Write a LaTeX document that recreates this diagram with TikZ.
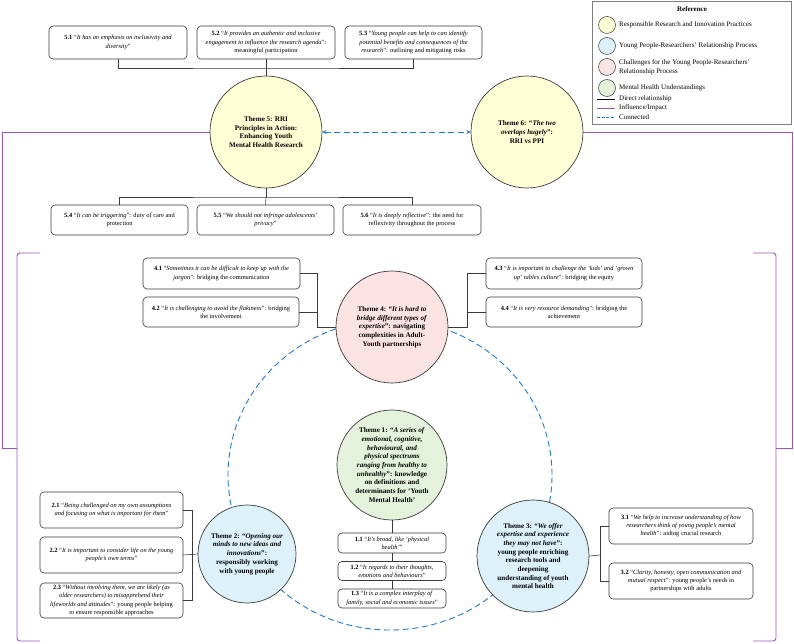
\documentclass[tikz,border=0pt]{standalone}
\usepackage{fontspec}
\setmainfont{Liberation Serif}
\usetikzlibrary{arrows.meta}
\definecolor{yel}{HTML}{FFFFD6}
\definecolor{blu}{HTML}{DDF1FA}
\definecolor{pnk}{HTML}{FCE3E3}
\definecolor{grn}{HTML}{E4F2DC}
\definecolor{pur}{HTML}{9554C9}
\definecolor{dsh}{HTML}{1F7AD6}
\definecolor{lin}{HTML}{3A3A3A}
\begin{document}
\begin{tikzpicture}[x=1pt,y=-1pt,
 qbox/.style={draw=lin, line width=0.6pt, rounded corners=4pt, fill=white, align=center, inner sep=1pt, font=\fontsize{6.4}{8.3}\selectfont},
 themec/.style={draw=lin, line width=0.7pt, circle, inner sep=0pt, align=center, minimum size=112pt, font=\fontsize{7.1}{8.7}\selectfont\bfseries},
 conn/.style={draw=lin, line width=0.6pt},
 infl/.style={draw=pur, line width=0.9pt},
 link/.style={draw=dsh, line width=0.9pt, dash pattern=on 6pt off 3.5pt},
 legc/.style={circle, draw=lin, line width=0.5pt, minimum size=17pt, inner sep=0pt},
 legt/.style={anchor=west, align=left, inner sep=0pt, font=\fontsize{7}{8.6}\selectfont}]
\useasboundingbox (0,0) rectangle (794,644);

% ---------- dashed big circle (behind) ----------
\draw[link] (390,475) ellipse [x radius=162pt, y radius=155pt];

% ---------- top boxes ----------
\node[qbox, minimum width=138pt, minimum height=33pt] (b51) at (118,42.5) {\textbf{5.1} “\textit{It has an emphasis on inclusivity and}\\\textit{diversity}”};
\node[qbox, minimum width=138pt, minimum height=33pt] (b52) at (266,42.5) {\textbf{5.2} “\textit{It provides an authentic and inclusive}\\\textit{engagement to influence the research agenda}”:\\meaningful participation};
\node[qbox, minimum width=137pt, minimum height=33pt] (b53) at (413.5,42.5) {\textbf{5.3} “\textit{Young people can help to can identify}\\\textit{potential benefits and consequences of the}\\\textit{research}”: outlining and mitigating risks};

\node[qbox, minimum width=137pt, minimum height=30pt] (b54) at (119.5,220) {\textbf{5.4} “\textit{It can be triggering}”: duty of care and\\protection};
\node[qbox, minimum width=137pt, minimum height=30pt] (b55) at (265.5,220) {\textbf{5.5} “\textit{We should not infringe adolescents’}\\\textit{privacy}”};
\node[qbox, minimum width=138pt, minimum height=30pt] (b56) at (412,220) {\textbf{5.6} “\textit{It is deeply reflective}”: the need for\\reflexivity throughout the process};

% ---------- theme 4 boxes ----------
\node[qbox, minimum width=157pt, minimum height=31pt] (b41) at (221.5,273.5) {\textbf{4.1} “\textit{Sometimes it can be difficult to keep up with the}\\\textit{jargon}”: bridging the communication};
\node[qbox, minimum width=156pt, minimum height=30pt] (b42) at (221,312) {\textbf{4.2} “\textit{It is challenging to avoid the flakiness}”: bridging\\the involvement};
\node[qbox, minimum width=156pt, minimum height=31pt] (b43) at (564,273.5) {\textbf{4.3} “\textit{It is important to challenge the ‘kids’ and ‘grown}\\\textit{up’ tables culture}”: bridging the equity};
\node[qbox, minimum width=156pt, minimum height=30pt] (b44) at (564,312) {\textbf{4.4} “\textit{It is very resource demanding}”: bridging the\\achievement};

% ---------- theme 2 boxes ----------
\node[qbox, minimum width=143pt, minimum height=36pt] (b21) at (111.5,510) {\textbf{2.1} “\textit{Being challenged on my own assumptions}\\\textit{and focusing on what is important for them}”};
\node[qbox, minimum width=143pt, minimum height=36pt] (b22) at (111.5,555) {\textbf{2.2} “\textit{It is important to consider life on the young}\\\textit{people’s own terms}”};
\node[qbox, minimum width=143pt, minimum height=35pt] (b23) at (111.5,600.5) {\textbf{2.3} “\textit{Without involving them, we are likely (as}\\\textit{older researchers) to misapprehend their}\\\textit{lifeworlds and attitudes}”: young people helping\\to ensure responsible approaches};

% ---------- theme 1 boxes ----------
\node[qbox, minimum width=108pt, minimum height=20pt] (b11) at (392,543) {\textbf{1.1} “\textit{It’s broad, like ‘physical}\\\textit{health’}”};
\node[qbox, minimum width=108pt, minimum height=19pt] (b12) at (392,571) {\textbf{1.2} “\textit{It regards to their thoughts,}\\\textit{emotions and behaviours}”};
\node[qbox, minimum width=108pt, minimum height=19pt] (b13) at (392,598.5) {\textbf{1.3} “\textit{It is a complex interplay of}\\\textit{family, social and economic issues}”};

% ---------- theme 3 boxes ----------
\node[qbox, minimum width=144pt, minimum height=36pt] (b31) at (681,526) {\textbf{3.1} “\textit{We help to increase understanding of how}\\\textit{researchers think of young people’s mental}\\\textit{health}”: aiding crucial research};
\node[qbox, minimum width=144pt, minimum height=36pt] (b32) at (681,581) {\textbf{3.2} “\textit{Clarity, honesty, open communication and}\\\textit{mutual respect}”: young people’s needs in\\partnerships with adults};

% ---------- junction coordinates ----------
\coordinate (j1) at (266,68);
\coordinate (j2) at (266,197);
\coordinate (c4l) at (317,327);
\coordinate (c4r) at (467,327);
\coordinate (c2) at (192,555);
\coordinate (c3) at (600,555);

% connectors drawn before theme circles
\draw[conn] (b51.south) |- (j1) -| (b53.south);
\draw[conn] (b54.north) |- (j2) -| (b56.north);
\draw[conn] (j2) -- (b55.north);
\draw[conn] (b41.east) -| (c4l) -- (c4r) |- (b43.west);
\draw[conn] (b42.east) -- (b42.east -| c4l);
\draw[conn] (b44.west) -- (b44.west -| c4r);

% ---------- themes ----------
\node[themec, fill=yel] (t5) at (266,132) {Theme 5: RRI\\Principles in Action:\\Enhancing Youth\\Mental Health Research};
\node[themec, fill=yel] (t6) at (527,132) {Theme 6: “\textit{The two}\\\textit{overlaps hugely}”:\\RRI vs PPI};
\node[themec, fill=pnk] (t4) at (392,327) {Theme 4: “\textit{It is hard to}\\\textit{bridge different types of}\\\textit{expertise}”: navigating\\complexities in Adult-\\Youth partnerships};
\node[themec, fill=grn, minimum size=110pt] (t1) at (392,465) {Theme 1: “\textit{A series of}\\\textit{emotional, cognitive,}\\\textit{behavioural, and}\\\textit{physical spectrums}\\\textit{ranging from healthy to}\\\textit{unhealthy}”: knowledge\\on definitions and\\determinants for ‘Youth\\Mental Health’};
\node[themec, fill=blu, minimum size=98pt] (t2) at (247,554) {Theme 2: “\textit{Opening our}\\\textit{minds to new ideas and}\\\textit{innovations}”:\\responsibly working\\with young people};
\node[themec, fill=blu] (t3) at (533,556) {Theme 3: “\textit{We offer}\\\textit{expertise and experience}\\\textit{they may not have}”:\\young people enriching\\research tools and\\deepening\\understanding of youth\\mental health};

\draw[conn] (b52.south) -- (t5.north);
\draw[conn] (t5.south) -- (j2);
\draw[conn] (t1.south) -- (b11.north);
\draw[conn] (b11.south) -- (b12.north);
\draw[conn] (b12.south) -- (b13.north);
\draw[conn] (b21.east) -- (b21.east -| c2) -- (b23.east -| c2) -- (b23.east);
\draw[conn] (b22.east) -- (t2.west);
\draw[conn] (b31.west) -- (b31.west -| c3) -- (b32.west -| c3) -- (b32.west);
\draw[conn] (t3.east) -- (c3);

% ---------- connected ----------
\draw[link, {Stealth[length=4pt,width=4pt]}-{Stealth[length=4pt,width=4pt]}] (t5.east) -- (t6.west);

% ---------- influence brackets ----------
\coordinate (pl1) at (2,132);
\coordinate (pl2) at (2,448);
\coordinate (pl3) at (17,448);
\coordinate (bl1) at (40,253);
\coordinate (bl2) at (17,253);
\coordinate (bl3) at (17,641);
\coordinate (bl4) at (40,641);
\coordinate (pr1) at (792,132);
\coordinate (pr2) at (792,448);
\coordinate (pr3) at (776,448);
\coordinate (br1) at (753,253);
\coordinate (br2) at (776,253);
\coordinate (br3) at (776,641);
\coordinate (br4) at (753,641);
\draw[infl] (t5.west) -- (pl1) -- (pl2) -- (pl3);
\draw[infl, rounded corners=3pt] (bl1) -- (bl2) -- (bl3) -- (bl4);
\draw[infl] (t6.east) -- (pr1) -- (pr2) -- (pr3);
\draw[infl, rounded corners=3pt] (br1) -- (br2) -- (br3) -- (br4);

% ---------- legend ----------
\node[draw=gray, line width=0.5pt, fill=white, minimum width=199pt, minimum height=123pt, anchor=north west, inner sep=0pt] (leg) at (592,1) {};
\node[font=\fontsize{7}{8}\selectfont\bfseries, inner sep=0pt] (legtitle) at (692,9) {Reference};
\node[legc, fill=yel] (lc1) at (607,25) {};
\node[legt] (ll1) at (619,25) {Responsible Research and Innovation Practices};
\node[legc, fill=blu] (lc2) at (607,46) {};
\node[legt] (ll2) at (619,46) {Young People-Researchers’ Relationship Process};
\node[legc, fill=pnk] (lc3) at (607,67) {};
\node[legt] (ll3) at (619,67) {Challenges for the Young People-Researchers’\\Relationship Process};
\node[legc, fill=grn] (lc4) at (607,88) {};
\node[legt] (ll4) at (619,88) {Mental Health Understandings};
\coordinate (la1) at (597,99);  \coordinate (lb1) at (615,99);
\coordinate (la2) at (597,108); \coordinate (lb2) at (615,108);
\coordinate (la3) at (597,117); \coordinate (lb3) at (615,117);
\draw[black, line width=0.9pt] (la1) -- (lb1);
\draw[infl] (la2) -- (lb2);
\draw[link, dash pattern=on 3pt off 1.5pt] (la3) -- (lb3);
\node[legt] (ll5) at (619,99) {Direct relationship};
\node[legt] (ll6) at (619,108) {Influence/Impact};
\node[legt] (ll7) at (619,117) {Connected};
\end{tikzpicture}
\end{document}
